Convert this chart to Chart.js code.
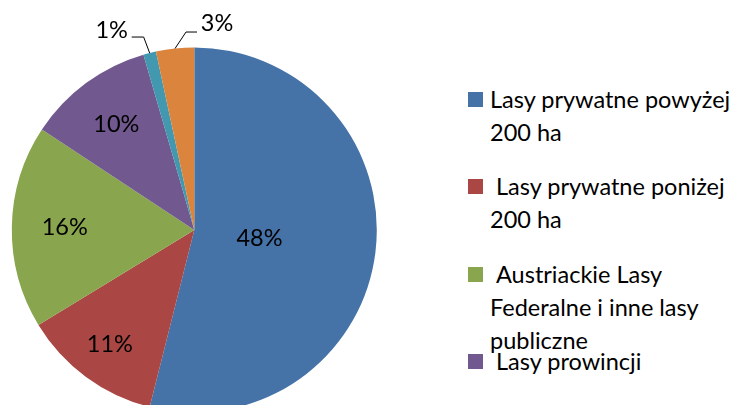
<!DOCTYPE html>
<html>
<head>
<meta charset="utf-8">
<script src="https://cdn.jsdelivr.net/npm/chart.js@4.4.1/dist/chart.umd.min.js"></script>
<style>
  html, body { margin: 0; padding: 0; background: #fff; }
  body { width: 744px; height: 405px; overflow: hidden; position: relative; font-family: Lato, "Open Sans", sans-serif; }
  #pieBox { position: absolute; left: 0; top: 0; width: 390px; height: 460px; }
  #legend { position: absolute; left: 468px; top: 0; width: 276px; }
  .item { position: absolute; left: 0; width: 274px; font-size: 23.5px; line-height: 33px; color: #000; }
  .item .box { position: absolute; left: 0; top: 9px; width: 15px; height: 15px; }
  .item .txt { margin-left: 22px; }
</style>
</head>
<body>
<div id="pieBox"><canvas id="pieChart"></canvas></div>
<div id="legend"></div>
<script>
// categories and their shares (%)
const categories = [
  'Lasy prywatne powyżej 200 ha',
  'Lasy prywatne poniżej 200 ha',
  'Austriackie Lasy Federalne i inne lasy publiczne',
  'Lasy prowincji',
  'Lasy gminne',
  'Lasy kościelne'
];
const shares = [48, 11, 16, 10, 1, 3];
const colors = ['#4572A7', '#AA4643', '#89A54E', '#71588F', '#4198AF', '#DB843D'];

// label placement (fraction of radius for inside labels, null = outside with leader)
const labelRadius = [0.36, 0.78, 0.71, 0.72, null, null];
// leader: [elbow dx, elbow dy, horizontal run, text dx, text dy]
const leaders = { 4: [-6, -16, -12, -20, -7], 5: [11, -16.5, 11, 20, -9] };

const pieLabels = {
  id: 'pieLabels',
  afterDatasetsDraw(chart) {
    const ctx = chart.ctx;
    const arcs = chart.getDatasetMeta(0).data;
    ctx.save();
    ctx.font = '23.5px Lato, "Open Sans", sans-serif';
    ctx.fillStyle = '#000';
    ctx.strokeStyle = '#000';
    ctx.lineWidth = 1;
    ctx.textAlign = 'center';
    ctx.textBaseline = 'middle';
    arcs.forEach((arc, i) => {
      const mid = (arc.startAngle + arc.endAngle) / 2;
      const text = shares[i] + '%';
      if (labelRadius[i] !== null) {
        const r = arc.outerRadius * labelRadius[i];
        ctx.fillText(text, arc.x + Math.cos(mid) * r, arc.y + Math.sin(mid) * r);
      } else {
        const l = leaders[i];
        const px = arc.x + Math.cos(mid) * arc.outerRadius;
        const py = arc.y + Math.sin(mid) * arc.outerRadius;
        const ex = px + l[0], ey = py + l[1];
        const hx = ex + l[2];
        ctx.beginPath();
        ctx.moveTo(px, py);
        ctx.lineTo(ex, ey);
        ctx.lineTo(hx, ey);
        ctx.stroke();
        ctx.fillText(text, hx + l[3], ey + l[4]);
      }
    });
    ctx.restore();
  }
};

new Chart(document.getElementById('pieChart'), {
  type: 'pie',
  data: {
    labels: categories,
    datasets: [{
      data: shares,
      backgroundColor: colors,
      borderWidth: 0,
      hoverOffset: 0
    }]
  },
  options: {
    responsive: true,
    maintainAspectRatio: false,
    animation: false,
    events: [],
    layout: { padding: { left: 11.8, right: 13.2, top: 47.5, bottom: 47.5 } },
    plugins: { legend: { display: false }, tooltip: { enabled: false } }
  },
  plugins: [pieLabels]
});

// legend built from the same arrays
const legend = document.getElementById('legend');
categories.forEach((name, i) => {
  const item = document.createElement('div');
  item.className = 'item';
  item.style.top = (83 + i * 87.3) + 'px';
  item.innerHTML = `<span class="box" style="background:${colors[i]}"></span>` +
    `<div class="txt" style="text-indent:${i > 0 ? 6 : 0}px">${name}</div>`;
  legend.appendChild(item);
});
</script>
</body>
</html>
